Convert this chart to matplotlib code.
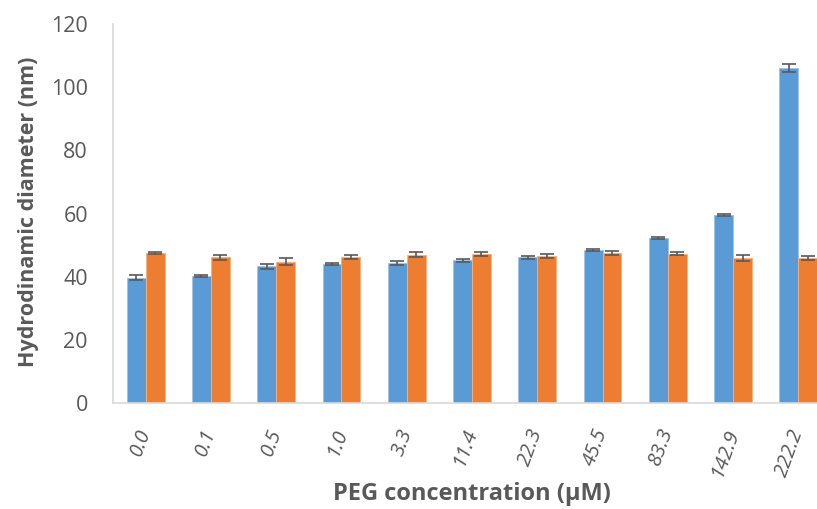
import numpy as np
import matplotlib.pyplot as plt

# data
concentrations = ["0.0", "0.1", "0.5", "1.0", "3.3", "11.4", "22.3", "45.5", "83.3", "142.9", "222.2"]
blue_vals = [39.7, 40.1, 43.3, 44.0, 44.4, 45.2, 46.2, 48.4, 52.2, 59.4, 106.0]
blue_err = [0.7, 0.3, 0.8, 0.3, 0.6, 0.5, 0.5, 0.3, 0.3, 0.3, 1.2]
orange_vals = [47.4, 46.2, 44.8, 46.2, 47.0, 47.1, 46.6, 47.4, 47.3, 45.9, 45.9]
orange_err = [0.3, 0.8, 1.0, 0.6, 0.8, 0.6, 0.6, 0.6, 0.4, 1.0, 0.7]

BLUE = "#5B9BD5"
ORANGE = "#ED7D31"
GREY = "#595959"

plt.rcParams["font.family"] = ["Open Sans", "DejaVu Sans"]

fig = plt.figure(figsize=(8.17, 5.09), dpi=100)
ax = fig.add_axes([113 / 817, 106 / 509, 718 / 817, 379 / 509])

x = np.arange(len(concentrations))
w = 0.29
err_kw = dict(ecolor=GREY, elinewidth=1.2, capsize=4.7, capthick=1.2)
ax.bar(x - w / 2, blue_vals, w, yerr=blue_err, color=BLUE, edgecolor="#9DC3E6",
       linewidth=0.6, error_kw=err_kw)
ax.bar(x + w / 2, orange_vals, w, yerr=orange_err, color=ORANGE, edgecolor="#F4B183",
       linewidth=0.6, error_kw=err_kw)

ax.set_xlim(-0.5, len(concentrations) - 0.5)
ax.set_ylim(0, 120)
ax.set_yticks(np.arange(0, 121, 20))
ax.tick_params(axis="y", length=0, pad=18, labelsize=15.5, labelcolor=GREY)
ax.tick_params(axis="x", length=0, pad=19, labelsize=14.5, labelcolor=GREY)
ax.set_xticks(x)
ax.set_xticklabels(concentrations, rotation=70, ha="right", va="center",
                   rotation_mode="anchor", style="italic")

for side in ["top", "right"]:
    ax.spines[side].set_visible(False)
for side in ["left", "bottom"]:
    ax.spines[side].set_color("#D9D9D9")
    ax.spines[side].set_linewidth(1.2)

fig.text(29 / 817, 1 - 212 / 509, "Hydrodinamic diameter (nm)", rotation=90,
         ha="center", va="center", fontsize=15.5, fontweight="bold", color=GREY)
fig.text(472 / 817, 1 - 494 / 509, "PEG concentration (\u03bcM)",
         ha="center", va="center", fontsize=17, fontweight="bold", color=GREY)

fig.savefig("out.png", dpi=100)
